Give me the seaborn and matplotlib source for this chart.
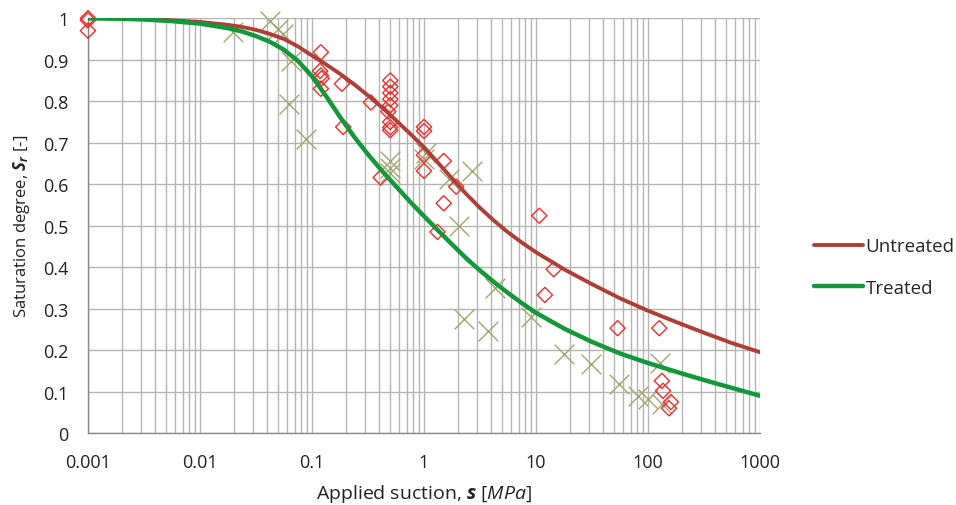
import numpy as np
import seaborn as sns
import matplotlib
matplotlib.use("Agg")
import matplotlib.pyplot as plt
from matplotlib.ticker import FixedLocator, LogLocator, NullFormatter

# suction values (MPa) and saturation degree
untreated_s = [0.001, 0.001, 0.001,
               0.12, 0.118, 0.12, 0.122, 0.12,
               0.185, 0.19, 0.336, 0.41,
               0.5, 0.5, 0.5, 0.5, 0.5, 0.48, 0.5, 0.5, 0.5,
               1.0, 1.0, 1.0, 1.0,
               1.5, 1.94, 1.5, 1.32,
               10.7, 14.4, 12.0,
               53.5, 126, 133, 136, 160, 154]
untreated_sr = [1.0, 0.995, 0.97,
                0.918, 0.873, 0.862, 0.855, 0.83,
                0.842, 0.738, 0.797, 0.616,
                0.85, 0.835, 0.82, 0.805, 0.79, 0.775, 0.75, 0.737, 0.73,
                0.738, 0.728, 0.67, 0.632,
                0.656, 0.594, 0.554, 0.485,
                0.524, 0.395, 0.333,
                0.253, 0.253, 0.126, 0.102, 0.075, 0.06]

treated_s = [0.0197, 0.042, 0.05, 0.055, 0.065, 0.062, 0.089,
             0.5, 0.5, 0.5,
             1.0, 1.05, 1.67, 2.7, 2.05,
             4.3, 2.28, 3.74, 9.1, 17.7, 31.2, 55.3, 82.2, 100, 133, 128]
treated_sr = [0.966, 0.994, 0.975, 0.961, 0.897, 0.793, 0.708,
              0.655, 0.64, 0.628,
              0.66, 0.676, 0.612, 0.632, 0.5,
              0.349, 0.275, 0.247, 0.279, 0.19, 0.166, 0.118, 0.09, 0.082, 0.07, 0.17]

# fitted retention curves (finer steps where they bend)
curve_s = [0.001, 0.00178, 0.00316, 0.00562, 0.01, 0.0178, 0.0237, 0.0316,
           0.0422, 0.0562, 0.075, 0.1, 0.133, 0.178, 0.237, 0.316, 0.422,
           0.562, 0.75, 1, 1.33, 1.78, 2.37, 3.16, 4.22, 5.62, 7.5, 10,
           17.8, 31.6, 56.2, 100, 178, 316, 562, 1000]
curve_untreated = [1.0, 0.9995, 0.998, 0.995, 0.991, 0.984, 0.979, 0.972,
                   0.962, 0.95, 0.932, 0.91, 0.889, 0.866, 0.841, 0.814, 0.785,
                   0.754, 0.722, 0.689, 0.652, 0.614, 0.577, 0.543, 0.512, 0.484,
                   0.459, 0.436,
                   0.395, 0.359, 0.325, 0.295, 0.268, 0.242, 0.217, 0.195]
curve_treated = [1.0, 0.999, 0.997, 0.993, 0.987, 0.976, 0.968, 0.957,
                 0.943, 0.924, 0.897, 0.86, 0.813, 0.762, 0.715, 0.672, 0.632,
                 0.595, 0.558, 0.523, 0.489, 0.455, 0.422, 0.392, 0.364, 0.338,
                 0.313, 0.29,
                 0.252, 0.22, 0.192, 0.169, 0.148, 0.128, 0.109, 0.09]

x_ticks = [0.001, 0.01, 0.1, 1, 10, 100, 1000]
x_labels = ["0.001", "0.01", "0.1", "1", "10", "100", "1000"]
y_ticks = [0, 0.1, 0.2, 0.3, 0.4, 0.5, 0.6, 0.7, 0.8, 0.9, 1]
y_labels = ["0", "0.1", "0.2", "0.3", "0.4", "0.5", "0.6", "0.7", "0.8", "0.9", "1"]

sns.set_style("white")
plt.rcParams["font.family"] = ["Open Sans", "DejaVu Sans"]
plt.rcParams["mathtext.fontset"] = "custom"
plt.rcParams["mathtext.rm"] = "Open Sans"
plt.rcParams["mathtext.it"] = "Open Sans:italic"
plt.rcParams["mathtext.bf"] = "Open Sans:bold:italic"

fig = plt.figure(figsize=(9.56, 5.06), dpi=100)
ax = fig.add_axes([0.092, 0.142, 0.703, 0.820])

grid_col = "#b4b4b4"

sns.scatterplot(x=treated_s, y=treated_sr, marker="x", s=200, color="#a4a46e",
                linewidth=1.0, ax=ax, zorder=3, clip_on=False)
sns.scatterplot(x=untreated_s, y=untreated_sr, marker="D", s=60, facecolor="none",
                edgecolor="#ec2f2c", linewidth=1.0, ax=ax, zorder=4, clip_on=False)
sns.lineplot(x=curve_s, y=curve_untreated, color="#ad3f37", linewidth=2.8,
             label="Untreated", ax=ax, zorder=5)
sns.lineplot(x=curve_s, y=curve_treated, color="#13973a", linewidth=3.2,
             label="Treated", ax=ax, zorder=6)

ax.set_xscale("log")
ax.set_xlim(0.001, 1000)
ax.set_ylim(0, 1)
ax.xaxis.set_major_locator(FixedLocator(x_ticks))
ax.set_xticklabels(x_labels)
ax.xaxis.set_minor_locator(LogLocator(base=10, subs=np.arange(2, 10)))
ax.xaxis.set_minor_formatter(NullFormatter())
ax.set_yticks(y_ticks)
ax.set_yticklabels(y_labels)

ax.grid(True, which="major", color=grid_col, linewidth=1.0)
ax.grid(True, which="minor", axis="x", color=grid_col, linewidth=1.0)
ax.set_axisbelow(True)
for side in ["top", "right"]:
    ax.spines[side].set_visible(False)
for side in ["left", "bottom"]:
    ax.spines[side].set_color("#888888")
    ax.spines[side].set_linewidth(1.0)
ax.tick_params(axis="both", which="major", direction="out", length=5, width=1,
               color="#888888", labelsize=13, labelcolor="#222222")
ax.tick_params(axis="x", which="major", pad=9)
ax.tick_params(axis="y", which="major", pad=9)
ax.tick_params(axis="x", which="minor", length=0)

ax.set_xlabel("Applied suction, $\\mathbf{s}$ $\\mathit{[MPa]}$", fontsize=14,
              color="#222222", labelpad=8)
ax.set_ylabel("Saturation degree, $\\mathbf{S}_{\\mathbf{r}}$ $\\mathit{[\u2010]}$", fontsize=12,
              color="#222222", labelpad=8)

ax.legend(loc="center left", bbox_to_anchor=(1.055, 0.40), frameon=False,
          fontsize=13.5, handlelength=2.6, handletextpad=0.15, labelspacing=1.25)

fig.savefig("out.png", dpi=100)
